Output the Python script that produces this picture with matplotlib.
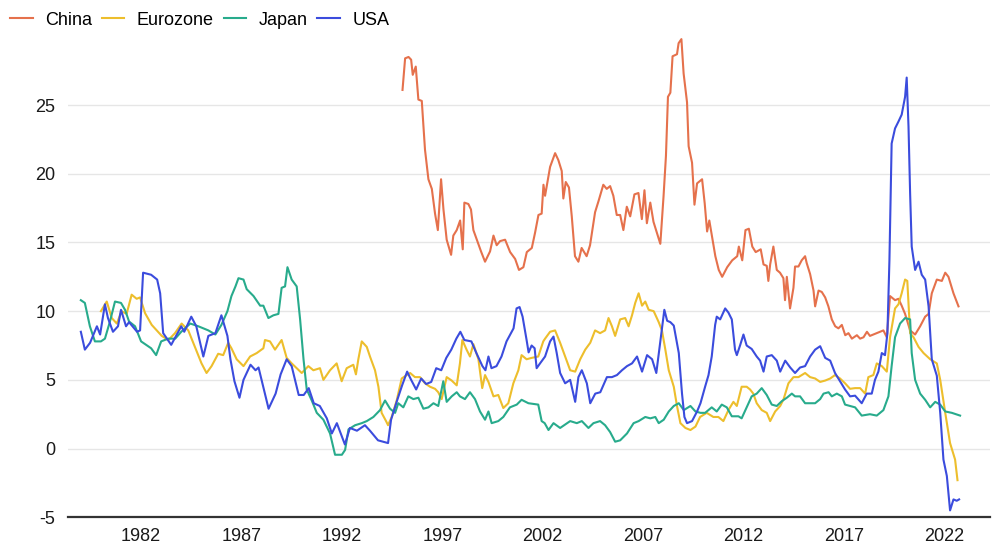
import matplotlib
matplotlib.use("Agg")
import matplotlib.pyplot as plt
import numpy as np

# money growth, % y/y (decimal years)
china_t = [1995.02, 1995.15, 1995.32, 1995.45, 1995.53, 1995.68, 1995.81, 1995.98, 1996.14, 1996.31,
           1996.48, 1996.64, 1996.78, 1996.94, 1997.06, 1997.22, 1997.44, 1997.55, 1997.72, 1997.89,
           1998.02, 1998.10, 1998.30, 1998.43, 1998.55, 1998.72, 1998.93, 1999.13, 1999.38, 1999.55,
           1999.71, 1999.88, 2000.13, 2000.38, 2000.63, 2000.82, 2001.04, 2001.21, 2001.46, 2001.62,
           2001.79, 2001.95, 2002.04, 2002.12, 2002.37, 2002.62, 2002.78, 2002.95, 2003.03, 2003.15,
           2003.31, 2003.45, 2003.61, 2003.78, 2003.94, 2004.19, 2004.36, 2004.61, 2004.78, 2005.02,
           2005.19, 2005.36, 2005.52, 2005.69, 2005.86, 2006.02, 2006.19, 2006.36, 2006.57, 2006.77,
           2006.94, 2007.07, 2007.19, 2007.36, 2007.52, 2007.69, 2007.86, 2008.02, 2008.14, 2008.24,
           2008.36, 2008.47, 2008.69, 2008.77, 2008.91, 2009.02, 2009.19, 2009.27, 2009.44, 2009.56,
           2009.69, 2009.94, 2010.07, 2010.19, 2010.30, 2010.44, 2010.60, 2010.77, 2010.94, 2011.19,
           2011.44, 2011.69, 2011.77, 2011.94, 2012.10, 2012.27, 2012.44, 2012.61, 2012.86, 2013.00,
           2013.16, 2013.24, 2013.33, 2013.49, 2013.66, 2013.82, 2013.99, 2014.07, 2014.16, 2014.32,
           2014.49, 2014.57, 2014.74, 2014.90, 2015.07, 2015.15, 2015.32, 2015.49, 2015.57, 2015.74,
           2015.90, 2016.07, 2016.23, 2016.40, 2016.57, 2016.73, 2016.90, 2017.07, 2017.23, 2017.40,
           2017.65, 2017.81, 2017.98, 2018.15, 2018.30, 2018.64, 2018.97, 2019.14, 2019.30, 2019.55,
           2019.72, 2019.88, 2020.05, 2020.30, 2020.55, 2020.80, 2021.05, 2021.22, 2021.38, 2021.63,
           2021.88, 2022.05, 2022.21, 2022.46, 2022.71]
china_v = [26.1, 28.4, 28.5, 28.3, 27.2, 27.8, 25.4, 25.3, 21.75, 19.6,
           18.9, 17.1, 15.9, 19.6, 17.4, 15.2, 14.1, 15.5, 15.9, 16.6,
           14.5, 17.9, 17.8, 17.4, 15.9, 15.2, 14.35, 13.6, 14.35, 15.5,
           14.8, 15.1, 15.2, 14.3, 13.8, 13.0, 13.2, 14.3, 14.6, 15.7,
           17.0, 17.1, 19.2, 18.4, 20.5, 21.5, 21.0, 20.2, 18.2, 19.4,
           19.0, 16.9, 14.0, 13.6, 14.6, 14.0, 14.8, 17.2, 18.0, 19.2,
           18.9, 19.1, 18.4, 17.0, 17.0, 15.9, 17.6, 16.9, 18.5, 18.6,
           16.7, 18.8, 16.4, 17.9, 16.5, 15.7, 14.9, 18.35, 21.3, 25.6,
           25.9, 28.55, 28.7, 29.5, 29.8, 27.3, 25.2, 22.0, 20.8, 17.75,
           19.3, 19.6, 17.85, 15.8, 16.6, 15.4, 14.0, 13.0, 12.5, 13.2,
           13.7, 14.0, 14.7, 13.7, 15.9, 16.0, 14.7, 14.3, 14.5, 13.4,
           13.3, 12.2, 13.4, 14.7, 13.0, 12.8, 12.4, 10.8, 12.5, 10.2,
           11.7, 13.25, 13.25, 13.7, 14.0, 13.5, 12.7, 11.5, 10.35, 11.5,
           11.4, 11.0, 10.35, 9.4, 8.9, 8.75, 9.0, 8.25, 8.4, 8.0,
           8.25, 8.0, 8.1, 8.5, 8.2, 8.4, 8.6, 8.1, 11.1, 10.8,
           10.9, 10.4, 9.8, 8.6, 8.3, 8.9, 9.6, 9.8, 11.3, 12.3,
           12.2, 12.8, 12.5, 11.3, 10.35]

euro_t = [1980.00, 1980.29, 1980.54, 1980.79, 1981.03, 1981.28, 1981.53, 1981.78, 1981.95, 1982.20,
          1982.53, 1982.78, 1983.03, 1983.36, 1983.69, 1984.02, 1984.35, 1984.68, 1985.01, 1985.26,
          1985.51, 1985.84, 1986.09, 1986.34, 1986.50, 1986.76, 1987.10, 1987.43, 1987.76, 1988.09,
          1988.17, 1988.42, 1988.67, 1989.00, 1989.25, 1989.50, 1989.75, 1990.00, 1990.33, 1990.58,
          1990.91, 1991.08, 1991.41, 1991.74, 1991.99, 1992.24, 1992.57, 1992.70, 1992.82, 1992.99,
          1993.24, 1993.40, 1993.65, 1993.82, 1993.98, 1994.20, 1994.30, 1994.48, 1994.73, 1994.98,
          1995.23, 1995.40, 1995.64, 1995.89, 1996.14, 1996.39, 1996.64, 1996.80, 1996.97, 1997.22,
          1997.47, 1997.72, 1997.88, 1998.00, 1998.21, 1998.38, 1998.55, 1998.80, 1998.99, 1999.13,
          1999.30, 1999.55, 1999.79, 2000.04, 2000.29, 2000.54, 2000.79, 2000.95, 2001.20, 2001.45,
          2001.78, 2002.03, 2002.12, 2002.37, 2002.62, 2002.87, 2003.12, 2003.37, 2003.62, 2003.87,
          2004.12, 2004.37, 2004.61, 2004.86, 2005.11, 2005.28, 2005.45, 2005.61, 2005.86, 2006.11,
          2006.28, 2006.45, 2006.61, 2006.78, 2006.95, 2007.11, 2007.28, 2007.53, 2007.78, 2007.94,
          2008.11, 2008.28, 2008.53, 2008.69, 2008.86, 2009.11, 2009.36, 2009.61, 2009.84, 2010.17,
          2010.50, 2010.75, 2011.00, 2011.25, 2011.50, 2011.67, 2011.91, 2012.16, 2012.33, 2012.49,
          2012.66, 2012.91, 2013.16, 2013.33, 2013.58, 2013.83, 2014.00, 2014.24, 2014.49, 2014.74,
          2015.07, 2015.32, 2015.57, 2015.82, 2016.07, 2016.32, 2016.56, 2016.81, 2017.06, 2017.31,
          2017.56, 2017.81, 2018.06, 2018.22, 2018.47, 2018.64, 2018.89, 2019.14, 2019.30, 2019.55,
          2019.72, 2019.88, 2020.05, 2020.16, 2020.30, 2020.47, 2020.72, 2020.97, 2021.30, 2021.63,
          2021.80, 2022.05, 2022.29, 2022.54, 2022.66]
euro_v = [10.0, 10.7, 9.5, 9.1, 10.0, 9.8, 11.2, 10.9, 11.0, 9.85,
          9.0, 8.6, 8.2, 7.9, 8.4, 9.1, 8.6, 7.4, 6.2, 5.5,
          6.0, 6.9, 6.8, 7.7, 7.3, 6.5, 6.0, 6.7, 6.95, 7.3,
          7.9, 7.8, 7.2, 7.9, 6.6, 6.2, 5.85, 5.5, 6.0, 5.7,
          5.85, 5.0, 5.7, 6.2, 4.9, 5.85, 6.1, 5.4, 6.5, 7.8,
          7.4, 6.7, 5.7, 4.5, 2.6, 2.0, 1.7, 2.3, 3.5, 5.1,
          5.35, 5.5, 5.2, 5.2, 4.75, 4.5, 4.35, 4.1, 3.6, 5.2,
          4.95, 4.6, 6.2, 7.9, 7.2, 6.7, 7.6, 6.5, 4.4, 5.35,
          4.85, 3.8, 3.9, 2.95, 3.3, 4.75, 5.7, 6.8, 6.5, 6.6,
          6.7, 7.8, 8.0, 8.5, 8.6, 7.7, 6.7, 5.7, 5.6, 6.5,
          7.2, 7.7, 8.6, 8.4, 8.6, 9.5, 8.9, 8.2, 9.4, 9.5,
          8.9, 9.7, 10.6, 11.3, 10.4, 10.7, 10.1, 10.0, 9.2, 8.6,
          7.2, 5.7, 4.5, 3.1, 1.85, 1.5, 1.35, 1.6, 2.3, 2.6,
          2.3, 2.3, 2.0, 2.8, 3.4, 3.1, 4.5, 4.5, 4.3, 4.0,
          3.3, 2.8, 2.6, 2.0, 2.7, 3.1, 3.6, 4.75, 5.2, 5.2,
          5.5, 5.2, 5.1, 4.85, 4.95, 5.1, 5.35, 5.1, 4.75, 4.35,
          4.4, 4.4, 4.0, 5.2, 5.35, 6.2, 6.0, 5.6, 8.1, 10.2,
          10.5, 11.3, 12.3, 12.2, 8.4, 8.1, 7.4, 6.95, 6.5, 6.2,
          5.0, 2.6, 0.4, -0.8, -2.3]

japan_t = [1979.00, 1979.20, 1979.45, 1979.70, 1980.00, 1980.20, 1980.45, 1980.70, 1981.00, 1981.20,
           1981.40, 1981.70, 1982.00, 1982.50, 1982.75, 1983.00, 1983.35, 1983.70, 1984.00, 1984.45,
           1984.85, 1985.35, 1985.70, 1986.00, 1986.30, 1986.50, 1986.70, 1986.85, 1987.10, 1987.26,
           1987.60, 1987.93, 1988.09, 1988.34, 1988.59, 1988.84, 1989.00, 1989.17, 1989.29, 1989.50,
           1989.75, 1989.92, 1990.09, 1990.25, 1990.50, 1990.75, 1991.08, 1991.41, 1991.66, 1992.00,
           1992.16, 1992.33, 1992.66, 1992.99, 1993.24, 1993.57, 1993.90, 1994.15, 1994.40, 1994.65,
           1994.81, 1995.06, 1995.31, 1995.56, 1995.81, 1996.06, 1996.31, 1996.56, 1996.80, 1997.05,
           1997.22, 1997.47, 1997.72, 1997.88, 1998.13, 1998.38, 1998.63, 1998.88, 1999.13, 1999.30,
           1999.46, 1999.79, 2000.04, 2000.37, 2000.71, 2000.95, 2001.29, 2001.78, 2001.95, 2002.10,
           2002.29, 2002.54, 2002.87, 2003.37, 2003.70, 2003.95, 2004.28, 2004.53, 2004.86, 2005.11,
           2005.36, 2005.61, 2005.86, 2006.20, 2006.53, 2006.78, 2007.11, 2007.36, 2007.61, 2007.78,
           2008.03, 2008.28, 2008.53, 2008.78, 2009.03, 2009.36, 2009.61, 2009.86, 2010.09, 2010.42,
           2010.67, 2010.92, 2011.17, 2011.42, 2011.75, 2011.91, 2012.16, 2012.41, 2012.66, 2012.91,
           2013.16, 2013.41, 2013.66, 2013.91, 2014.16, 2014.41, 2014.57, 2014.82, 2015.07, 2015.32,
           2015.57, 2015.82, 2015.99, 2016.24, 2016.40, 2016.65, 2016.90, 2017.06, 2017.31, 2017.56,
           2017.89, 2018.30, 2018.64, 2018.97, 2019.22, 2019.38, 2019.55, 2019.80, 2020.05, 2020.30,
           2020.38, 2020.55, 2020.80, 2021.05, 2021.30, 2021.55, 2021.80, 2022.05, 2022.38, 2022.79]
japan_v = [10.8, 10.6, 8.9, 7.8, 7.8, 8.0, 9.25, 10.7, 10.6, 10.1,
           9.25, 8.9, 7.8, 7.3, 6.8, 7.8, 8.0, 8.0, 8.5, 9.1,
           8.9, 8.6, 8.3, 9.0, 10.0, 11.1, 11.8, 12.4, 12.3, 11.6,
           11.1, 10.4, 10.4, 9.5, 9.7, 9.8, 11.7, 11.8, 13.2, 12.3,
           11.8, 9.4, 6.5, 4.3, 3.5, 2.6, 2.1, 1.1, -0.45, -0.45,
           -0.1, 1.4, 1.7, 1.85, 2.0, 2.3, 2.8, 3.5, 2.9, 2.6,
           3.3, 3.0, 3.8, 3.6, 3.7, 2.9, 3.0, 3.3, 3.1, 4.9,
           3.4, 3.8, 4.1, 3.8, 3.6, 4.1, 3.6, 2.7, 2.1, 2.7,
           1.85, 2.0, 2.3, 3.0, 3.2, 3.55, 3.3, 3.2, 2.0, 1.85,
           1.35, 1.85, 1.5, 2.0, 1.85, 2.0, 1.5, 1.85, 2.0, 1.7,
           1.2, 0.5, 0.6, 1.1, 1.85, 2.0, 2.3, 2.2, 2.3, 1.85,
           2.1, 2.7, 3.1, 3.3, 2.8, 3.1, 2.7, 2.6, 2.6, 3.0,
           2.7, 3.2, 3.0, 2.35, 2.35, 2.2, 3.0, 3.8, 4.0, 4.4,
           3.9, 3.2, 3.1, 3.45, 3.7, 4.0, 3.8, 3.8, 3.3, 3.3,
           3.3, 3.6, 4.0, 4.1, 3.8, 4.0, 3.8, 3.2, 3.1, 3.0,
           2.4, 2.5, 2.4, 2.8, 3.8, 6.0, 8.1, 9.1, 9.5, 9.4,
           6.95, 5.0, 4.0, 3.55, 3.0, 3.4, 3.2, 2.7, 2.6, 2.4]

usa_t = [1979.00, 1979.20, 1979.46, 1979.80, 1979.96, 1980.20, 1980.35, 1980.60, 1980.85, 1981.00,
         1981.25, 1981.40, 1981.80, 1981.95, 1982.10, 1982.50, 1982.80, 1982.95, 1983.10, 1983.50,
         1984.00, 1984.15, 1984.50, 1984.75, 1985.10, 1985.35, 1985.70, 1986.00, 1986.30, 1986.45,
         1986.65, 1986.90, 1987.10, 1987.45, 1987.70, 1987.85, 1988.35, 1988.70, 1988.95, 1989.25,
         1989.50, 1989.85, 1990.10, 1990.35, 1990.60, 1990.90, 1991.25, 1991.50, 1991.75, 1992.15,
         1992.40, 1992.75, 1993.15, 1993.40, 1993.80, 1994.05, 1994.30, 1994.45, 1994.75, 1995.00,
         1995.25, 1995.45, 1995.70, 1995.95, 1996.20, 1996.45, 1996.70, 1996.95, 1997.20, 1997.45,
         1997.70, 1997.90, 1998.10, 1998.45, 1998.70, 1999.00, 1999.15, 1999.30, 1999.45, 1999.70,
         1999.95, 2000.20, 2000.55, 2000.70, 2000.85, 2001.00, 2001.20, 2001.30, 2001.45, 2001.60,
         2001.70, 2001.87, 2002.12, 2002.37, 2002.54, 2002.70, 2002.87, 2003.12, 2003.37, 2003.62,
         2003.78, 2003.95, 2004.20, 2004.37, 2004.62, 2004.87, 2005.20, 2005.45, 2005.70, 2005.95,
         2006.20, 2006.45, 2006.70, 2006.95, 2007.20, 2007.45, 2007.66, 2007.86, 2008.06, 2008.20,
         2008.36, 2008.53, 2008.78, 2008.94, 2009.06, 2009.19, 2009.44, 2009.69, 2009.86, 2010.09,
         2010.26, 2010.42, 2010.59, 2010.67, 2010.84, 2011.09, 2011.25, 2011.42, 2011.58, 2011.67,
         2011.83, 2012.00, 2012.16, 2012.41, 2012.66, 2012.83, 2013.00, 2013.16, 2013.41, 2013.66,
         2013.83, 2014.08, 2014.33, 2014.57, 2014.82, 2015.07, 2015.32, 2015.57, 2015.82, 2016.07,
         2016.32, 2016.56, 2016.81, 2017.06, 2017.31, 2017.56, 2017.89, 2018.14, 2018.39, 2018.55,
         2018.72, 2018.89, 2019.05, 2019.17, 2019.27, 2019.38, 2019.55, 2019.72, 2019.88, 2020.05,
         2020.13, 2020.22, 2020.30, 2020.38, 2020.55, 2020.72, 2020.88, 2021.05, 2021.22, 2021.38,
         2021.63, 2021.80, 2021.96, 2022.13, 2022.29, 2022.46, 2022.62, 2022.74]
usa_v = [8.5, 7.2, 7.7, 8.9, 8.3, 10.5, 9.5, 8.5, 8.9, 10.1,
         8.9, 9.2, 8.5, 8.6, 12.8, 12.65, 12.3, 11.3, 8.4, 7.55,
         8.9, 8.5, 9.6, 8.9, 6.7, 8.2, 8.4, 9.7, 8.2, 6.5,
         4.9, 3.7, 5.0, 6.1, 5.7, 5.9, 2.9, 4.0, 5.4, 6.5,
         6.0, 3.9, 3.9, 4.4, 3.3, 3.1, 2.2, 1.1, 1.85, 0.3,
         1.5, 1.3, 1.7, 1.3, 0.6, 0.5, 0.4, 2.1, 3.5, 4.6,
         5.6, 5.0, 4.3, 5.1, 4.7, 4.85, 5.85, 5.7, 6.6, 7.2,
         8.0, 8.5, 7.9, 7.8, 6.95, 6.0, 5.7, 6.7, 5.85, 6.0,
         6.7, 7.8, 8.75, 10.2, 10.3, 9.6, 7.9, 7.0, 7.5, 7.3,
         5.85, 6.2, 6.7, 7.8, 8.15, 6.95, 5.5, 4.75, 5.0, 3.4,
         5.2, 5.7, 4.75, 3.3, 4.0, 4.1, 5.2, 5.2, 5.35, 5.7,
         6.0, 6.2, 6.7, 5.6, 6.8, 6.5, 5.5, 7.8, 10.1, 9.3,
         9.2, 8.95, 6.95, 4.0, 2.3, 1.85, 2.0, 2.7, 3.3, 4.5,
         5.35, 6.7, 9.0, 9.6, 9.4, 10.2, 9.9, 9.4, 7.2, 6.8,
         7.5, 8.3, 7.5, 7.25, 6.7, 6.4, 5.6, 6.7, 6.8, 6.4,
         5.6, 6.4, 5.9, 5.5, 5.9, 6.0, 6.7, 7.2, 7.45, 6.6,
         6.4, 5.5, 4.9, 4.3, 3.8, 3.85, 3.3, 4.0, 4.0, 5.0,
         5.6, 6.95, 6.8, 8.4, 13.7, 22.2, 23.3, 23.8, 24.3, 25.6,
         27.0, 23.45, 18.6, 14.7, 13.0, 13.6, 12.65, 12.3, 10.35, 6.5,
         5.3, 2.6, -0.8, -2.0, -4.5, -3.7, -3.8, -3.7]

series = [("China", china_t, china_v, "#E5714C"),
          ("Eurozone", euro_t, euro_v, "#EDBE2C"),
          ("Japan", japan_t, japan_v, "#28AB8C"),
          ("USA", usa_t, usa_v, "#3B4CDD")]

year_ticks = [1982, 1987, 1992, 1997, 2002, 2007, 2012, 2017, 2022]
y_ticks = [-5, 0, 5, 10, 15, 20, 25]

plt.rcParams['font.family'] = ['Liberation Sans', 'DejaVu Sans']
plt.rcParams['axes.unicode_minus'] = False

fig = plt.figure(figsize=(9.97, 5.5), dpi=100)
ax = fig.add_axes([0.0682, 0.0595, 0.9248, 0.8769])

for name, t, v, col in series:
    ax.plot(t, v, color=col, lw=1.5, label=name)

ax.set_xlim(1978.36, 2024.28)
ax.set_ylim(-5, 30.1)
ax.set_xticks(year_ticks)
ax.set_xticklabels([str(y) for y in year_ticks])
ax.set_yticks(y_ticks)
ax.tick_params(axis='both', length=0, labelsize=13, labelcolor='#1a1a1a')
ax.tick_params(axis='x', pad=8)
ax.tick_params(axis='y', pad=9)
ax.grid(axis='y', color='#e6e6e6', lw=1)
ax.set_axisbelow(True)

for s in ['top', 'right', 'left']:
    ax.spines[s].set_visible(False)
ax.spines['bottom'].set_color('#333333')
ax.spines['bottom'].set_linewidth(1.6)

fig.legend(loc='center left', bbox_to_anchor=(0.01, 0.9636), ncol=4, frameon=False,
           fontsize=13, handlelength=1.25, handletextpad=0.68, columnspacing=0.55,
           borderpad=0, borderaxespad=0)

fig.savefig("out.png", dpi=100)
